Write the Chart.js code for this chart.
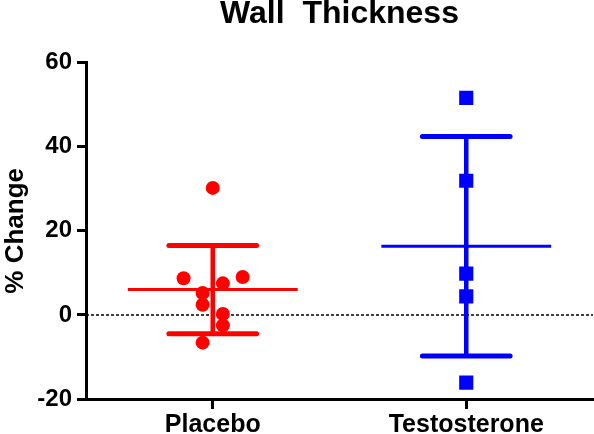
<!DOCTYPE html>
<html>
<head>
<meta charset="utf-8">
<script src="https://cdn.jsdelivr.net/npm/chart.js@4.4.1/dist/chart.umd.min.js"></script>
<style>
  html, body { margin: 0; padding: 0; background: #fff; }
  #wrap { width: 594px; height: 434px; }
</style>
</head>
<body>
<div id="wrap"><canvas id="chart" width="594" height="434"></canvas></div>
<script>
const groups = ['Placebo', 'Testosterone'];
const placeboValues = [30.2, 8.7, 7.5, 9.0, 5.2, 2.4, 0.2, -2.5, -6.6];
const testosteroneValues = [51.6, 31.9, 9.8, 4.4, -16.1];
// where each dot sits across its column (column units, 0 = centre)
const placeboSpread = [0, -0.115, 0.04, 0.118, -0.04, -0.04, 0.04, 0.04, -0.04];
const testosteroneSpread = [0, 0, 0, 0, 0];
const yTicks = [-20, 0, 20, 40, 60];

const RED = '#ff0000';
const BLUE = '#0000ff';
const MEAN_HALF = 0.335;   // half length of mean line
const CAP_HALF = 0.173;    // half length of SD caps

Chart.defaults.font.family = "'Liberation Sans', Arial, sans-serif";
Chart.defaults.color = '#000';

function mean(arr) {
    return arr.reduce((a, b) => a + b, 0) / arr.length;
}
function sd(arr) {
    const m = mean(arr);
    const ss = arr.reduce((a, b) => a + (b - m) * (b - m), 0);
    return Math.sqrt(ss / (arr.length - 1));
}

// a straight line between two points, drawn through the scales
function seg(x1, y1, x2, y2, color, width, cap, dash) {
    return {
        type: 'scatter',
        data: [{x: x1, y: y1}, {x: x2, y: y2}],
        showLine: true,
        borderColor: color,
        borderWidth: width,
        borderCapStyle: cap || 'butt',
        borderDash: dash || [],
        pointRadius: 0,
        pointHoverRadius: 0,
        fill: false
    };
}

function meanSdLines(values, x, color) {
    const m = mean(values);
    const s = sd(values);
    return [
        seg(x - MEAN_HALF, m, x + MEAN_HALF, m, color, 3),
        seg(x, m - s, x, m + s, color, 4.5),
        seg(x - CAP_HALF, m + s, x + CAP_HALF, m + s, color, 5, 'round'),
        seg(x - CAP_HALF, m - s, x + CAP_HALF, m - s, color, 5, 'round')
    ];
}

const placeboPoints = placeboValues.map((v, i) => ({x: 0 + placeboSpread[i], y: v}));
const testoPoints = testosteroneValues.map((v, i) => ({x: 1 + testosteroneSpread[i], y: v}));

const datasets = [
    {
        type: 'scatter',
        data: placeboPoints,
        pointStyle: 'circle',
        pointRadius: 7,
        backgroundColor: RED,
        borderWidth: 0
    },
    {
        type: 'scatter',
        data: testoPoints,
        pointStyle: 'rect',
        pointRadius: 10,
        backgroundColor: BLUE,
        borderWidth: 0
    },
    ...meanSdLines(placeboValues, 0, RED),
    ...meanSdLines(testosteroneValues, 1, BLUE),
    seg(-0.5, 0, 1.5, 0, '#000', 1.5, 'butt', [3, 2])
];

new Chart(document.getElementById('chart').getContext('2d'), {
    type: 'scatter',
    data: {datasets: datasets},
    options: {
        responsive: false,
        animation: false,
        layout: {
            autoPadding: false,
            padding: {top: 0, right: 1, bottom: 0, left: 0}
        },
        plugins: {
            legend: {display: false},
            tooltip: {enabled: false},
            title: {
                display: true,
                text: 'Wall  Thickness',
                fullSize: false,
                color: '#000',
                font: {size: 32, weight: 'bold', lineHeight: 0.8},
                padding: {top: 1, bottom: 36}
            }
        },
        scales: {
            x: {
                type: 'linear',
                min: -0.5,
                max: 1.5,
                afterBuildTicks: axis => {
                    axis.ticks = groups.map((g, i) => ({value: i}));
                },
                afterFit: axis => {
                    axis.height = 35;
                    axis.paddingLeft = 0;
                    axis.paddingRight = 0;
                },
                ticks: {
                    callback: value => groups[value],
                    font: {size: 25, weight: 'bold'},
                    color: '#000',
                    padding: 1
                },
                grid: {
                    drawOnChartArea: false,
                    drawTicks: true,
                    tickLength: 10,
                    tickWidth: 3,
                    tickColor: '#000'
                },
                border: {display: true, width: 3, color: '#000'}
            },
            y: {
                min: -20,
                max: 60,
                afterBuildTicks: axis => {
                    axis.ticks = yTicks.map(v => ({value: v}));
                },
                afterFit: axis => { axis.width = 86; },
                ticks: {
                    font: {size: 24, weight: 'bold'},
                    color: '#000',
                    padding: 5
                },
                grid: {
                    drawOnChartArea: false,
                    drawTicks: true,
                    tickLength: 9,
                    tickWidth: 3,
                    tickColor: '#000'
                },
                border: {display: true, width: 3, color: '#000'},
                title: {
                    display: true,
                    text: '% Change',
                    color: '#000',
                    font: {size: 26, weight: 'bold'},
                    padding: {top: 0, bottom: 0}
                }
            }
        }
    }
});
</script>
</body>
</html>
